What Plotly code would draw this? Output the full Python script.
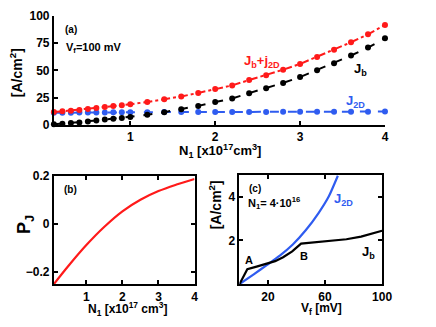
import plotly.graph_objects as go

# panel (a): currents vs doping at Vf=100 mV
N1_a = [0.1, 0.2, 0.3, 0.4, 0.5, 0.6, 0.7, 0.8, 0.9, 1.0, 1.2, 1.4, 1.6, 1.8, 2.0,
        2.2, 2.4, 2.6, 2.8, 3.0, 3.2, 3.4, 3.6, 3.8, 4.0]
J_b = [0.6, 1.2, 1.7, 2.3, 3.2, 4.1, 5.0, 5.8, 6.4, 7.3, 9.4, 11.7, 14.3, 17.5, 21.0,
       24.3, 29.2, 33.6, 38.6, 43.9, 50.3, 56.7, 63.7, 71.0, 79.5]
J_2D = [11.2, 11.3, 11.3, 11.4, 11.4, 11.5, 11.5, 11.6, 11.6, 11.7, 11.7, 11.8, 11.8, 11.9, 11.9,
        12.0, 12.0, 12.0, 12.1, 12.1, 12.1, 12.2, 12.2, 12.2, 12.3]
J_sum = [b + d for b, d in zip(J_b, J_2D)]

# panel (b): polarization
N1_b = [0.1, 0.5, 1.0, 1.5, 2.0, 2.5, 3.0, 3.5, 4.0]
P_J = [-0.25, -0.175, -0.088, -0.012, 0.052, 0.10, 0.136, 0.163, 0.186]

# panel (c): currents vs bias at N1=4e16
Vf_2D = [0, 10, 19.6, 28.3, 37.4, 46.6, 55.7, 62.6, 69]
J2D_c = [0, 0.45, 0.89, 1.3, 1.81, 2.47, 3.27, 4.0, 4.95]
Vf_b = [0, 5.5, 12, 19.6, 25, 30.6, 37, 43.2, 51, 60, 67, 75, 85.3, 92, 100]
Jb_c = [0, 0.68, 0.8, 0.93, 1.05, 1.23, 1.5, 1.85, 1.9, 1.93, 1.98, 2.05, 2.17, 2.28, 2.44]

RED = '#ff1a1a'
BLUE = '#2f5cf0'
FONT = 'Liberation Sans'

# the page body adds an 8px offset, so the figure is a bit smaller than the window
W, H, OFF = 428, 319, 8
def X(px):
    return (px - OFF) / W
def Y(py):
    return 1 - (py - OFF) / H

fig = go.Figure()
fig.add_trace(go.Scatter(x=N1_a, y=J_2D, mode='lines+markers', line=dict(color=BLUE, width=2, dash='dash'),
                         marker=dict(size=6, color=BLUE), xaxis='x', yaxis='y', cliponaxis=False))
fig.add_trace(go.Scatter(x=N1_a, y=J_sum, mode='lines+markers', line=dict(color=RED, width=2, dash='dashdot'),
                         marker=dict(size=6, color=RED), xaxis='x', yaxis='y', cliponaxis=False))
fig.add_trace(go.Scatter(x=N1_a, y=J_b, mode='lines+markers', line=dict(color='black', width=2, dash='dash'),
                         marker=dict(size=6, color='black'), xaxis='x', yaxis='y', cliponaxis=False))

fig.add_trace(go.Scatter(x=N1_b, y=P_J, mode='lines', line=dict(color=RED, width=2.2, shape='spline', smoothing=1),
                         xaxis='x2', yaxis='y2'))

fig.add_trace(go.Scatter(x=Vf_2D, y=J2D_c, mode='lines', line=dict(color=BLUE, width=2.2, shape='spline', smoothing=0.6),
                         xaxis='x3', yaxis='y3'))
fig.add_trace(go.Scatter(x=Vf_b, y=Jb_c, mode='lines', line=dict(color='black', width=2.2),
                         xaxis='x3', yaxis='y3'))

tickf = dict(family=FONT, size=12, color='black', weight='bold')
ax = dict(showgrid=False, zeroline=False, showline=True, linecolor='black', linewidth=2,
          ticks='inside', ticklen=4, tickwidth=1.5, tickcolor='black', tickfont=tickf)

fig.update_layout(
    width=W, height=H, margin=dict(l=0, r=0, t=0, b=0),
    paper_bgcolor='white', plot_bgcolor='white', showlegend=False,
    xaxis=dict(ax, domain=[X(55), X(394)], range=[0.1, 4.0], tickvals=[1, 2, 3, 4], anchor='y'),
    yaxis=dict(ax, domain=[Y(123), Y(9)], range=[0, 100], tickvals=[0, 25, 50, 75, 100], anchor='x'),
    xaxis2=dict(ax, domain=[X(55), X(199)], range=[0.1, 4.0], tickvals=[1, 2, 3, 4], mirror='ticks', anchor='y2'),
    yaxis2=dict(ax, domain=[Y(289.5), Y(176)], range=[-0.25, 0.2], tickvals=[-0.2, 0, 0.2],
                ticktext=['\u22120.2', '0', '0.2'], mirror='ticks', anchor='x2'),
    xaxis3=dict(ax, domain=[X(245), X(391)], range=[0, 100], tickvals=[20, 60, 100], mirror='ticks', anchor='y3'),
    yaxis3=dict(ax, domain=[Y(289.5), Y(175)], range=[0, 5], tickvals=[2, 4], mirror='ticks', anchor='x3'),
)

def note(x, y, text, size=12, color='black', angle=0, xanchor='center'):
    fig.add_annotation(x=X(x), y=Y(y), xref='paper', yref='paper', text=text, showarrow=False,
                       textangle=angle, xanchor=xanchor, yanchor='middle',
                       font=dict(family=FONT, size=size, color=color, weight='bold'))

# panel (a) texts
note(64, 23, '(a)', size=10, xanchor='left')
note(65, 43, 'V<sub>f</sub>=100 mV', size=11, xanchor='left')
note(248, 57, 'J<sub>b</sub>+j<sub>2D</sub>', size=13, color=RED, xanchor='left')
note(360, 65, 'J<sub>b</sub>', size=13, xanchor='left')
note(352, 98, 'J<sub>2D</sub>', size=13, color=BLUE, xanchor='left')
note(225, 150, 'N<sub>1</sub> [x10<sup>17</sup>cm<sup>3</sup>]', size=13)
note(17, 68, '[A/cm<sup>2</sup>]', size=14, angle=-90)

# panel (b) texts
note(63, 190, '(b)', size=10, xanchor='left')
note(130, 316, 'N<sub>1</sub> [x10<sup>17</sup> cm<sup>3</sup>]', size=12)
note(26, 227, 'P<sub>J</sub>', size=18, angle=-90)

# panel (c) texts
note(253, 189, '(c)', size=10, xanchor='left')
note(252, 205, 'N<sub>1</sub>= 4\u00b710<sup>16</sup>', size=11, xanchor='left')
note(340, 201, 'J<sub>2D</sub>', size=13, color=BLUE, xanchor='left')
note(249, 264, 'A', size=11, xanchor='left')
note(305, 260, 'B', size=11, xanchor='left')
note(368, 256, 'J<sub>b</sub>', size=13, xanchor='left')
note(329, 316, 'V<sub>f</sub> [mV]', size=12)
note(220, 207, '[A/cm<sup>2</sup>]', size=14, angle=-90)

fig.write_html("out.html", config={'displayModeBar': False})
